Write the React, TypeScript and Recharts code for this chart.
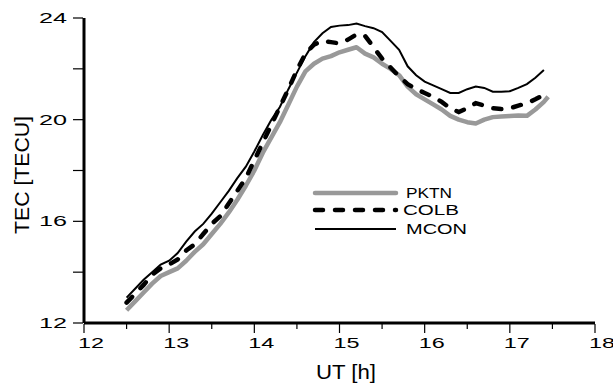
import React from 'react';
import { LineChart, Line, XAxis, YAxis } from 'recharts';

const hours = [12.5, 12.6, 12.7, 12.8, 12.9, 13.0, 13.1, 13.2, 13.3, 13.4, 13.5, 13.6, 13.7, 13.8, 13.9, 14.0, 14.1, 14.2, 14.3, 14.4, 14.5, 14.6, 14.7, 14.8, 14.9, 15.0, 15.1, 15.2, 15.3, 15.4, 15.5, 15.6, 15.7, 15.8, 15.9, 16.0, 16.1, 16.2, 16.3, 16.4, 16.5, 16.6, 16.7, 16.8, 16.9, 17.0, 17.1, 17.2, 17.3, 17.4, 17.45];

const pktn = [12.5, 12.85, 13.2, 13.55, 13.85, 14.0, 14.15, 14.45, 14.8, 15.1, 15.5, 15.9, 16.35, 16.85, 17.4, 18.0, 18.7, 19.3, 19.9, 20.6, 21.3, 21.9, 22.2, 22.4, 22.5, 22.65, 22.75, 22.85, 22.6, 22.45, 22.2, 22.0, 21.75, 21.3, 21.0, 20.8, 20.6, 20.4, 20.15, 20.0, 19.9, 19.85, 20.0, 20.1, 20.12, 20.14, 20.16, 20.15, 20.4, 20.7, 20.9];

const colb = [12.8, 13.15, 13.5, 13.9, 14.15, 14.3, 14.5, 14.85, 15.1, 15.5, 15.9, 16.2, 16.7, 17.2, 17.7, 18.4, 19.1, 19.8, 20.5, 21.2, 21.95, 22.6, 22.95, 23.1, 23.05, 23.0, 23.15, 23.35, 23.3, 22.85, 22.4, 22.05, 21.7, 21.4, 21.2, 21.05, 20.9, 20.7, 20.45, 20.3, 20.45, 20.65, 20.55, 20.45, 20.42, 20.45, 20.55, 20.65, 20.8, 20.98, 21.1];

const mcon: (number | null)[] = [13.0, 13.35, 13.7, 14.0, 14.3, 14.45, 14.75, 15.2, 15.6, 15.9, 16.3, 16.75, 17.2, 17.7, 18.15, 18.75, 19.4, 20.0, 20.5, 21.2, 21.85, 22.5, 23.05, 23.4, 23.65, 23.7, 23.72, 23.78, 23.68, 23.6, 23.45, 23.1, 22.75, 22.1, 21.75, 21.5, 21.35, 21.2, 21.05, 21.05, 21.2, 21.3, 21.25, 21.1, 21.1, 21.12, 21.25, 21.4, 21.65, 21.95, null];

const xTicks = [12, 12.5, 13, 13.5, 14, 14.5, 15, 15.5, 16, 16.5, 17, 17.5, 18];
const yTicks = [12, 14, 16, 18, 20, 22, 24];
const seriesNames = ['PKTN', 'COLB', 'MCON'];

const data = hours.map((t, i) => ({ t, PKTN: pktn[i], COLB: colb[i], MCON: mcon[i] }));

const FONT = '"Liberation Sans", Arial, sans-serif';
const GREY = '#999999';

const XTick = (props: any) => {
  const { x, y, payload } = props;
  const v = payload.value;
  const major = Math.abs(v - Math.round(v)) < 1e-6;
  return (
    <g>
      <line x1={x} x2={x} y1={y + 1} y2={y + (major ? 10 : 6)} stroke="#000" strokeWidth={1.2} />
      {major && (
        <text x={x - 6} y={y + 25} textAnchor="start" fontFamily={FONT} fontSize={15} fill="#000" textLength={26} lengthAdjust="spacingAndGlyphs">
          {String(v)}
        </text>
      )}
    </g>
  );
};

const YTick = (props: any) => {
  const { x, y, payload } = props;
  const v = payload.value;
  const labeled = v % 4 === 0;
  return (
    <g>
      <line x1={x - 11} x2={x - 1} y1={y} y2={y} stroke="#000" strokeWidth={1.2} />
      {labeled && (
        <text x={x - 17} y={y + 5} textAnchor="end" fontFamily={FONT} fontSize={14.5} fill="#000" textLength={28} lengthAdjust="spacingAndGlyphs">
          {String(v)}
        </text>
      )}
    </g>
  );
};

const legendRows = [
  { name: seriesNames[0], stroke: GREY, width: 4.5, dash: undefined as string | undefined, cap: 'round' as const, len: 46, tx: 406 },
  { name: seriesNames[1], stroke: '#000', width: 4.5, dash: '8 12', cap: 'round' as const, len: 56, tx: 403 },
  { name: seriesNames[2], stroke: '#000', width: 2, dash: undefined, cap: 'butt' as const, len: 61, tx: 406 },
];
const legendY = [193, 210, 229];

export default function App() {
  return (
    <div style={{ position: 'absolute', left: 0, top: 0, width: 613, height: 383, background: '#fff' }}>
      <LineChart width={613} height={383} data={data} margin={{ top: 18, right: 18, bottom: 20, left: 0 }}>
        <XAxis
          dataKey="t"
          type="number"
          domain={[12, 18]}
          ticks={xTicks}
          interval={0}
          height={40}
          tickSize={0}
          tickMargin={0}
          tickLine={false}
          axisLine={{ stroke: '#000', strokeWidth: 3 }}
          tick={<XTick />}
        />
        <YAxis
          type="number"
          domain={[12, 24]}
          ticks={yTicks}
          interval={0}
          width={84}
          tickSize={0}
          tickMargin={0}
          tickLine={false}
          axisLine={{ stroke: '#000', strokeWidth: 3 }}
          tick={<YTick />}
        />
        <Line dataKey="PKTN" stroke={GREY} strokeWidth={4.5} dot={false} isAnimationActive={false} type="linear" strokeLinejoin="round" />
        <Line dataKey="COLB" stroke="#000" strokeWidth={4.5} strokeDasharray="8 12" strokeLinecap="round" dot={false} isAnimationActive={false} type="linear" />
        <Line dataKey="MCON" stroke="#000" strokeWidth={2} dot={false} isAnimationActive={false} type="linear" />
      </LineChart>
      <svg width={613} height={383} style={{ position: 'absolute', left: 0, top: 0, pointerEvents: 'none' }}>
        {legendRows.map((r, i) => (
          <g key={r.name}>
            <line x1={315} x2={396} y1={legendY[i]} y2={legendY[i]} stroke={r.stroke} strokeWidth={r.width} strokeDasharray={r.dash} strokeLinecap={r.cap} />
            <text x={r.tx} y={legendY[i] + 5} fontFamily={FONT} fontSize={14} fill="#000" textLength={r.len} lengthAdjust="spacingAndGlyphs">
              {r.name}
            </text>
          </g>
        ))}
        <text x={346} y={379} textAnchor="middle" fontFamily={FONT} fontSize={19.5} fill="#000" textLength={60} lengthAdjust="spacingAndGlyphs">UT [h]</text>
        <text transform="translate(29,175) rotate(-90)" x={0} y={0} textAnchor="middle" fontFamily={FONT} fontSize={21} fill="#000" textLength={118} lengthAdjust="spacingAndGlyphs">TEC [TECU]</text>
      </svg>
    </div>
  );
}
